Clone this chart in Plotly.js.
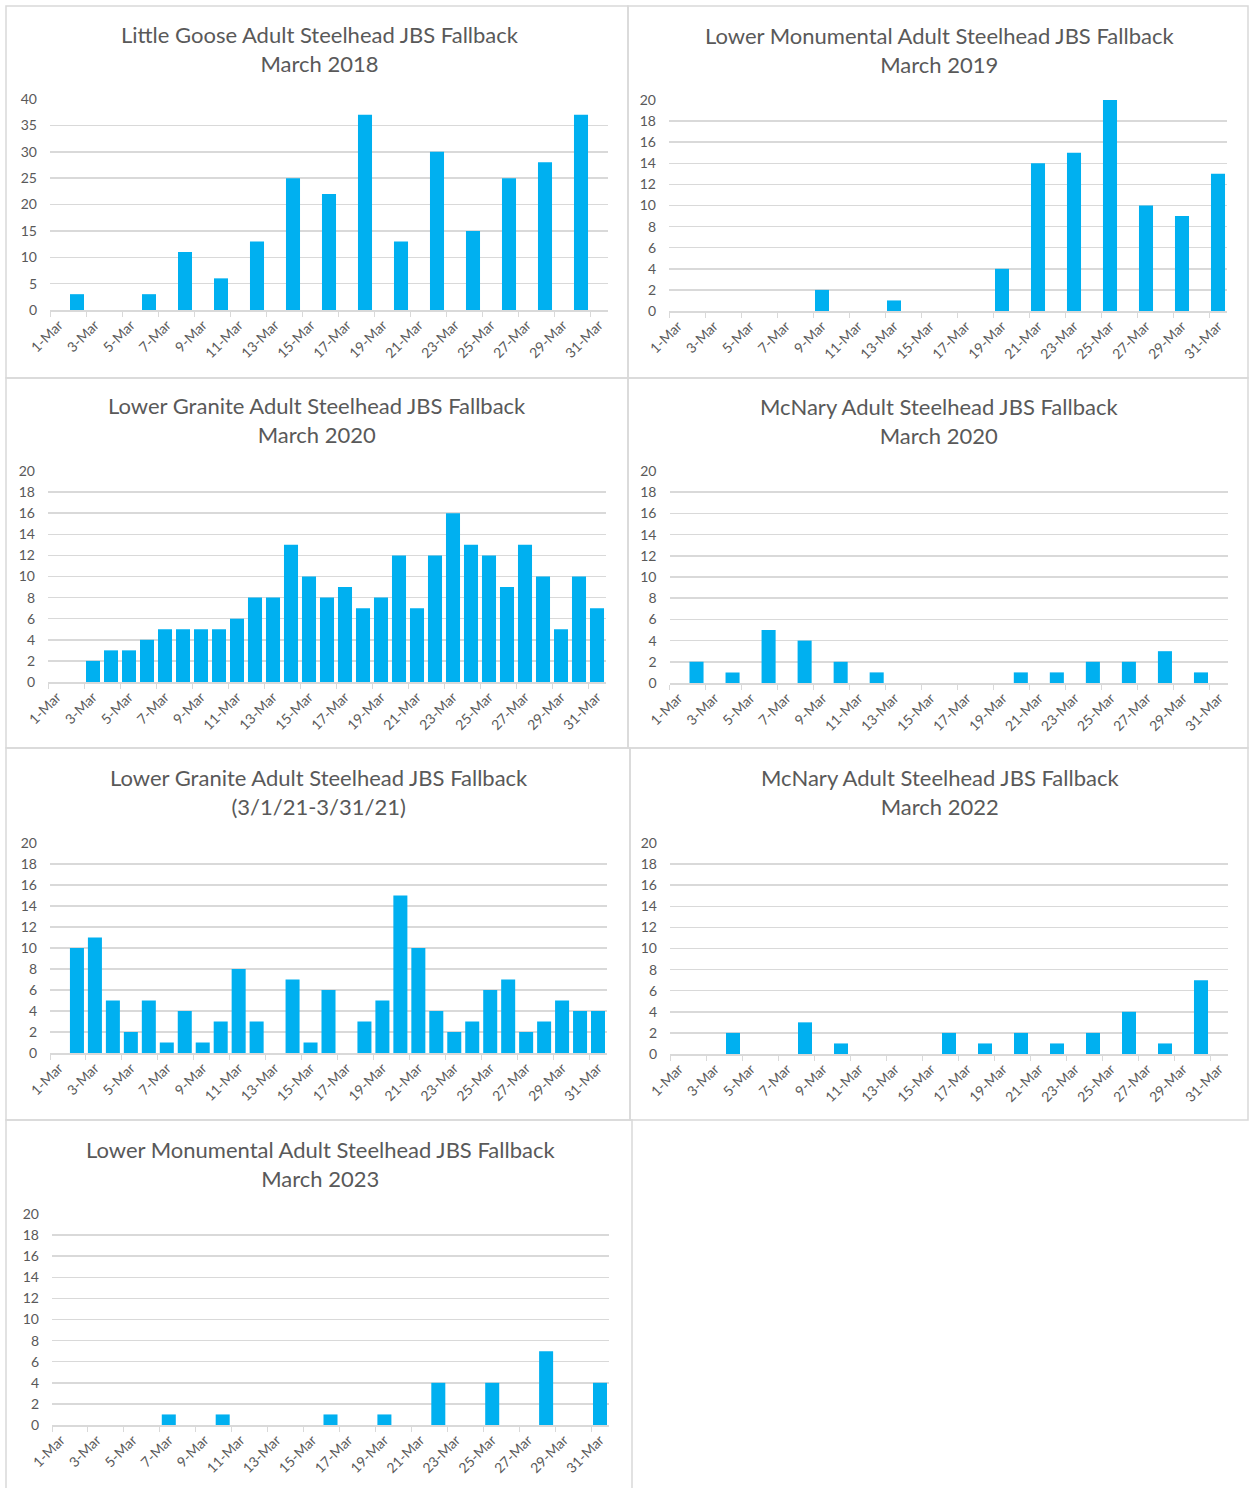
<!DOCTYPE html>
<html><head><meta charset="utf-8">
<script src="https://cdn.plot.ly/plotly-3.0.1.min.js"></script>
<style>html,body{margin:0;padding:0;background:#fff}#chart{width:1249px;height:1488px}</style>
</head><body><div id="chart"></div>
<script>
// ---- data ----
const days = ["1-Mar","2-Mar","3-Mar","4-Mar","5-Mar","6-Mar","7-Mar","8-Mar","9-Mar","10-Mar",
  "11-Mar","12-Mar","13-Mar","14-Mar","15-Mar","16-Mar","17-Mar","18-Mar","19-Mar","20-Mar",
  "21-Mar","22-Mar","23-Mar","24-Mar","25-Mar","26-Mar","27-Mar","28-Mar","29-Mar","30-Mar","31-Mar"];

const chartTitles = [
  "Little Goose Adult Steelhead JBS Fallback<br>March 2018",
  "Lower Monumental Adult Steelhead JBS Fallback<br>March 2019",
  "Lower Granite Adult Steelhead JBS Fallback<br>March 2020",
  "McNary Adult Steelhead JBS Fallback<br>March 2020",
  "Lower Granite Adult Steelhead JBS Fallback<br>(3/1/21-3/31/21)",
  "McNary Adult Steelhead JBS Fallback<br>March 2022",
  "Lower Monumental Adult Steelhead JBS Fallback<br>March 2023"
];

const littleGoose2018      = [0,3,0,0,0,3,0,11,0,6,0,13,0,25,0,22,0,37,0,13,0,30,0,15,0,25,0,28,0,37,0];
const lowerMonumental2019  = [0,0,0,0,0,0,0,0,2,0,0,0,1,0,0,0,0,0,4,0,14,0,15,0,20,0,10,0,9,0,13];
const lowerGranite2020     = [0,0,2,3,3,4,5,5,5,5,6,8,8,13,10,8,9,7,8,12,7,12,16,13,12,9,13,10,5,10,7];
const mcNary2020           = [0,2,0,1,0,5,0,4,0,2,0,1,0,0,0,0,0,0,0,1,0,1,0,2,0,2,0,3,0,1,0];
const lowerGranite2021     = [0,10,11,5,2,5,1,4,1,3,8,3,0,7,1,6,0,3,5,15,10,4,2,3,6,7,2,3,5,4,4];
const mcNary2022           = [0,0,0,2,0,0,0,3,0,1,0,0,0,0,0,2,0,1,0,2,0,1,0,2,0,4,0,1,0,7,0];
const lowerMonumental2023  = [0,0,0,0,0,0,1,0,0,1,0,0,0,0,0,1,0,0,1,0,0,4,0,0,4,0,0,7,0,0,4];

const seriesList = [littleGoose2018, lowerMonumental2019, lowerGranite2020, mcNary2020,
                    lowerGranite2021, mcNary2022, lowerMonumental2023];
const yMax  = [40,20,20,20,20,20,20];
const yStep = [5,2,2,2,2,2,2];

// ---- layout (pixels) ----
const W = 1249, H = 1488;
const boxes = [[6,6,628,378],[628,6,1248,378],[6,378,628,748],[628,378,1248,748],
               [6,748,630,1120],[630,748,1248,1120],[6,1120,632,1490]];
const plots = [[50,99,608,310],[669,100,1227,311],[48,471,606,682],[669.5,471,1228,683],
               [50,843,607,1053],[670,843,1228,1054],[52,1214,609,1425]];
const titleCenters = [[320,49],[939,50],[317,420],[939,421],[319,792],[940,792],[320,1164]];

const FONT = "Lato, 'Open Sans', sans-serif";
const TXT = '#595959';
const GRID = '#d9d9d9';
const BAR = '#00b0f0';

const data = [];
const layout = {
  width: W, height: H, margin: {l:0,r:0,t:0,b:0},
  paper_bgcolor: '#ffffff', plot_bgcolor: '#ffffff',
  showlegend: false, bargap: 0.22,
  font: {family: FONT, color: TXT},
  shapes: [], annotations: []
};

seriesList.forEach((vals, i) => {
  const n = i === 0 ? '' : String(i + 1);
  data.push({
    type: 'bar', x: days, y: vals,
    xaxis: 'x' + n, yaxis: 'y' + n,
    marker: {color: BAR, line: {width: 0}},
    hoverinfo: 'x+y'
  });
  const p = plots[i];
  layout['xaxis' + n] = {
    type: 'category', domain: [p[0]/W, p[2]/W], anchor: 'y' + n,
    range: [-0.5, 30.5], tickmode: 'linear', tick0: 0, dtick: 2,
    tickson: 'boundaries', ticks: 'outside', ticklen: 5, tickcolor: GRID, tickwidth: 1,
    showline: true, linecolor: GRID, linewidth: 1.5, showgrid: false,
    tickangle: -45, tickfont: {family: FONT, size: 14, color: TXT}, fixedrange: true
  };
  layout['yaxis' + n] = {
    domain: [1 - p[3]/H, 1 - p[1]/H], anchor: 'x' + n,
    range: [0, yMax[i]], tickmode: 'linear', tick0: 0, dtick: yStep[i],
    showgrid: true, gridcolor: GRID, gridwidth: 1.5, zeroline: false, showline: false,
    ticks: '', ticklabelstandoff: 12,
    tickfont: {family: FONT, size: 14, color: TXT}, fixedrange: true
  };
  const b = boxes[i];
  layout.shapes.push({type: 'rect', xref: 'paper', yref: 'paper',
    x0: b[0]/W, x1: b[2]/W, y0: 1 - b[3]/H, y1: 1 - b[1]/H,
    line: {color: GRID, width: 1.5}, fillcolor: 'rgba(0,0,0,0)', layer: 'below'});
  const t = titleCenters[i];
  layout.annotations.push({text: chartTitles[i], xref: 'paper', yref: 'paper',
    x: t[0]/W, y: 1 - t[1]/H, xanchor: 'center', yanchor: 'middle', showarrow: false,
    font: {family: FONT, size: 22, color: TXT}});
});

Plotly.newPlot('chart', data, layout, {displayModeBar: false, staticPlot: true});
</script>
</body></html>
